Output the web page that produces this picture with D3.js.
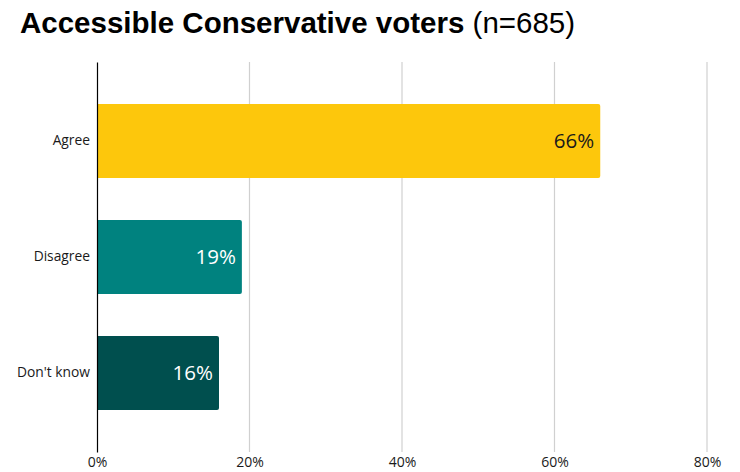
<!DOCTYPE html>
<html>
<head>
<meta charset="utf-8">
<script src="https://cdn.jsdelivr.net/npm/d3@7"></script>
<style>
  html, body { margin: 0; padding: 0; background: #fff; }
  svg { display: block; }
</style>
</head>
<body>
<svg id="chart" width="740" height="472"></svg>
<script>
const categories = ["Agree", "Disagree", "Don't know"];
const values = [66, 19, 16];
const colors = ["#FDC70C", "#00827F", "#004F4E"];
const labelColors = ["#1a1a1a", "#ffffff", "#ffffff"];
const tickValues = [0, 20, 40, 60, 80];

const svg = d3.select("#chart");
const margin = { left: 97, right: 33, top: 62, bottom: 20 };
const W = 740, H = 472;

const x = d3.scaleLinear().domain([0, 80]).range([margin.left, W - margin.right]);
const y = d3.scaleBand().domain(categories).range([margin.top, H - margin.bottom])
  .paddingInner(0.362).paddingOuter(0.362);

// Title
const title = svg.append("text").attr("x", 20).attr("y", 33)
  .attr("font-family", "Liberation Sans, Arial, sans-serif").attr("font-size", 29.5).attr("fill", "#000");
title.append("tspan").attr("font-weight", "bold").text("Accessible Conservative voters");
title.append("tspan").text(" (n=685)");

// Vertical gridlines
svg.append("g").selectAll("line").data(tickValues.filter(d => d > 0)).join("line")
  .attr("x1", d => x(d)).attr("x2", d => x(d))
  .attr("y1", margin.top).attr("y2", H - margin.bottom)
  .attr("stroke", "#d0d0d0").attr("stroke-width", 1.2);

// Bars with slightly rounded right end
const bars = svg.append("g");
categories.forEach((c, i) => {
  const x0 = x(0), x1 = x(values[i]), y0 = y(c), h = y.bandwidth(), r = 2;
  bars.append("path")
    .attr("d", `M${x0},${y0}H${x1 - r}Q${x1},${y0} ${x1},${y0 + r}V${y0 + h - r}Q${x1},${y0 + h} ${x1 - r},${y0 + h}H${x0}Z`)
    .attr("fill", colors[i]);
  svg.append("text")
    .attr("x", x1 - 6).attr("y", y0 + h / 2).attr("dy", "0.35em")
    .attr("text-anchor", "end")
    .attr("font-family", "Open Sans, Noto Sans, sans-serif").attr("font-size", 20.5)
    .attr("fill", labelColors[i]).text(values[i] + "%");
});

// Category axis
const yAxis = svg.append("g").attr("transform", `translate(${margin.left},0)`)
  .call(d3.axisLeft(y).tickSize(0).tickPadding(7));
yAxis.select(".domain").attr("stroke", "#000").attr("stroke-width", 1.2);
yAxis.selectAll("text").attr("font-family", "Open Sans, Noto Sans, sans-serif")
  .attr("font-size", 13.8).attr("fill", "#1a1a1a");

// Value axis labels
const xAxis = svg.append("g").attr("transform", `translate(0,${H - margin.bottom})`)
  .call(d3.axisBottom(x).tickValues(tickValues).tickFormat(d => d + "%").tickSize(0).tickPadding(5));
xAxis.select(".domain").remove();
xAxis.selectAll("text").attr("font-family", "Open Sans, Noto Sans, sans-serif")
  .attr("font-size", 14).attr("fill", "#1a1a1a");
</script>
</body>
</html>
